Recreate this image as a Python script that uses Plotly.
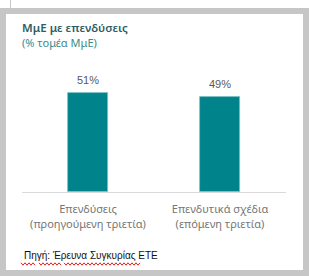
import plotly.graph_objects as go

categories = ["Επενδύσεις<br>(προηγούμενη τριετία)", "Επενδυτικά σχέδια<br>(επόμενη τριετία)"]
values = [51, 49]
value_labels = ["51%", "49%"]
title_line1 = "ΜμΕ με επενδύσεις"
title_line2 = "(% τομέα ΜμΕ)"
source_text = "Πηγή: Έρευνα Συγκυρίας ΕΤΕ"

W, H = 309, 276
L, R, T, B = 22, 286, 60, 192  # plot area in pixels
pw, ph = R - L, B - T

def px(x):
    return (x - L) / pw

def py(y):
    return (B - y) / ph

fig = go.Figure()
fig.add_trace(go.Bar(
    x=[0, 1], y=values, width=0.31,
    marker=dict(color="#00838a", line=dict(color="#7fbfc3", width=0.8)),
    hoverinfo="skip",
))

shapes = [
    dict(type="rect", xref="paper", yref="paper", layer="below",
         x0=px(6), x1=px(303), y0=py(270), y1=py(14),
         fillcolor="white", line=dict(width=0)),
    dict(type="rect", xref="paper", yref="paper", layer="below",
         x0=px(0), x1=px(309), y0=py(8), y1=py(0),
         fillcolor="white", line=dict(width=0)),
    dict(type="line", xref="paper", yref="paper", layer="below",
         x0=px(10.5), x1=px(10.5), y0=py(8), y1=py(0),
         line=dict(color="#c6c6c6", width=1)),
]

def wave(x0, x1, y):
    pts = []
    x = x0
    up = True
    while x <= x1:
        pts.append((x, y - 1.2 if up else y + 1.2))
        up = not up
        x += 2
    d = "M " + " L ".join(f"{px(a):.5f},{py(b):.5f}" for a, b in pts)
    return dict(type="path", xref="paper", yref="paper", path=d,
                line=dict(color="#e02020", width=1))

for a, b in [(21, 35), (39, 62), (64, 140)]:
    shapes.append(wave(a, b, 264))

annotations = [
    dict(text=title_line1, x=px(20), y=py(27), xref="paper", yref="paper",
         xanchor="left", yanchor="middle", showarrow=False,
         font=dict(family="Noto Sans", size=11.5, color="#2e5d63", weight=600)),
    dict(text=title_line2, x=px(20), y=py(43), xref="paper", yref="paper",
         xanchor="left", yanchor="middle", showarrow=False,
         font=dict(family="Noto Sans", size=11, color="#3a8a90")),
    dict(text=source_text, x=px(22), y=py(255), xref="paper", yref="paper",
         xanchor="left", yanchor="middle", showarrow=False,
         font=dict(family="Liberation Sans, Arial", size=10, color="#111111")),
]
for i, (v, t) in enumerate(zip(values, value_labels)):
    annotations.append(dict(
        text=t, x=i, y=v, xref="x", yref="y", yanchor="bottom",
        yshift=5, showarrow=False,
        font=dict(family="Liberation Sans, Arial", size=11, color="#595959")))

fig.update_layout(
    width=W, height=H,
    margin=dict(l=L, r=W - R, t=T, b=H - B, pad=0),
    paper_bgcolor="#c6c6c6", plot_bgcolor="rgba(0,0,0,0)",
    showlegend=False, bargap=0,
    shapes=shapes, annotations=annotations,
    xaxis=dict(range=[-0.5, 1.5], tickvals=[0, 1], ticktext=categories,
               showline=True, linecolor="#d9d9d9", linewidth=1,
               showgrid=False, zeroline=False, ticks="",
               tickfont=dict(family="Noto Sans", size=11, color="#767676"),
               ticklabelstandoff=7, fixedrange=True),
    yaxis=dict(range=[0, ph / 1.94], visible=False, showgrid=False,
               zeroline=False, fixedrange=True),
)

fig.write_html("out.html")
